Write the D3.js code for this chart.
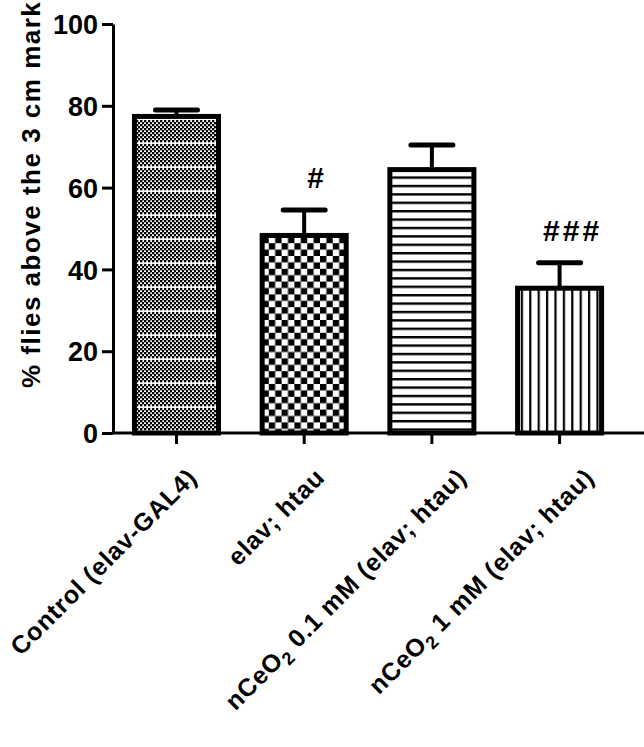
<!DOCTYPE html>
<html>
<head>
<meta charset="utf-8">
<script src="https://cdn.jsdelivr.net/npm/d3@7"></script>
<style>
  body { margin: 0; background: #fff; }
  text { font-family: "Liberation Sans", Arial, sans-serif; font-weight: bold; fill: #000; }
</style>
</head>
<body>
<div id="chart"></div>
<script>
// data
var groups = ["Control (elav-GAL4)", "elav; htau", "nCeO2 0.1 mM (elav; htau)", "nCeO2 1 mM (elav; htau)"];
var means = [77.4, 48.3, 64.4, 35.4];
var sems = [1.6, 6.2, 6.0, 6.2];
var marks = ["", "#", "", "###"];
var yTicks = [0, 20, 40, 60, 80, 100];

var width = 644, height = 747;

var svg = d3.select("#chart").append("svg")
  .attr("width", width)
  .attr("height", height);

var x = d3.scaleBand()
  .domain(groups)
  .range([113, 644])
  .paddingInner(0.342)
  .paddingOuter(0.25)
  .align(0.336);

var y = d3.scaleLinear()
  .domain([0, 100])
  .range([433, 24]);

// fill patterns, one per bar
var defs = svg.append("defs");

// fine checker with white bands
var p0 = defs.append("pattern").attr("id", "p0")
  .attr("patternUnits", "userSpaceOnUse")
  .attr("width", 4).attr("height", 24);
p0.append("rect").attr("width", 4).attr("height", 24).attr("fill", "#fff");
for (var r = 0; r < 11; r++) {
  p0.append("rect").attr("x", (r % 2) * 2).attr("y", r * 2)
    .attr("width", 2.3).attr("height", 2.3).attr("fill", "#000");
}

// coarse checkerboard
var c = 12.8;
var p1 = defs.append("pattern").attr("id", "p1")
  .attr("patternUnits", "userSpaceOnUse")
  .attr("width", c).attr("height", c);
p1.append("rect").attr("width", c).attr("height", c).attr("fill", "#fff");
p1.append("rect").attr("width", c / 2).attr("height", c / 2).attr("fill", "#000");
p1.append("rect").attr("x", c / 2).attr("y", c / 2).attr("width", c / 2).attr("height", c / 2).attr("fill", "#000");

// horizontal lines
var p2 = defs.append("pattern").attr("id", "p2")
  .attr("patternUnits", "userSpaceOnUse")
  .attr("width", 10).attr("height", 8.4);
p2.append("rect").attr("width", 10).attr("height", 8.4).attr("fill", "#fff");
p2.append("rect").attr("y", 0).attr("width", 10).attr("height", 2.4).attr("fill", "#000");

// vertical lines
var p3 = defs.append("pattern").attr("id", "p3")
  .attr("patternUnits", "userSpaceOnUse")
  .attr("width", 8.4).attr("height", 10);
p3.append("rect").attr("width", 8.4).attr("height", 10).attr("fill", "#fff");
p3.append("rect").attr("x", 0).attr("width", 2.2).attr("height", 10).attr("fill", "#000");

var bars = svg.append("g").selectAll("g")
  .data(groups)
  .enter().append("g");

// error bars drawn first so the bar outline sits over them
bars.append("line")
  .attr("x1", function(d) { return x(d) + x.bandwidth() / 2; })
  .attr("x2", function(d) { return x(d) + x.bandwidth() / 2; })
  .attr("y1", function(d, i) { return y(means[i]); })
  .attr("y2", function(d, i) { return y(means[i] + sems[i]); })
  .attr("stroke", "#000").attr("stroke-width", 4);

bars.append("line")
  .attr("x1", function(d) { return x(d) + x.bandwidth() / 2 - 21; })
  .attr("x2", function(d) { return x(d) + x.bandwidth() / 2 + 21; })
  .attr("y1", function(d, i) { return y(means[i] + sems[i]); })
  .attr("y2", function(d, i) { return y(means[i] + sems[i]); })
  .attr("stroke", "#000").attr("stroke-width", 5)
  .attr("stroke-linecap", "round");

bars.append("rect")
  .attr("x", function(d) { return x(d); })
  .attr("y", function(d, i) { return y(means[i]); })
  .attr("width", x.bandwidth())
  .attr("height", function(d, i) { return y(0) - y(means[i]); })
  .attr("fill", function(d, i) { return "url(#p" + i + ")"; })
  .attr("stroke", "#000")
  .attr("stroke-width", 5);

// significance marks
bars.append("text")
  .attr("x", function(d) { return x(d) + x.bandwidth() / 2 + 13; })
  .attr("y", function(d, i) { return y(means[i] + sems[i]) - 22; })
  .attr("text-anchor", "middle")
  .style("font-size", "30px")
  .style("letter-spacing", "3px")
  .text(function(d, i) { return marks[i]; });

// y axis
var yAxis = svg.append("g")
  .attr("transform", "translate(113,0)")
  .call(d3.axisLeft(y).tickValues(yTicks).tickSize(11).tickSizeOuter(0).tickPadding(4));
yAxis.selectAll("path, line").attr("stroke", "#000").attr("stroke-width", 3);
yAxis.selectAll("text")
  .style("font-size", "27px")
  .attr("dy", "0.36em");

// x axis
var xAxis = svg.append("g")
  .attr("transform", "translate(0,433)")
  .call(d3.axisBottom(x).tickSize(11).tickSizeOuter(0).tickFormat(""));
xAxis.select(".domain").attr("d", "M113,0H644");
xAxis.selectAll("path, line").attr("stroke", "#000").attr("stroke-width", 3);

// rotated category labels, with subscript in CeO2
var labels = svg.append("g").selectAll("text")
  .data(groups)
  .enter().append("text")
  .attr("text-anchor", "end")
  .style("font-size", "25px")
  .style("letter-spacing", "0.8px")
  .attr("transform", function(d) {
    var off = d.indexOf("O2") >= 0 ? 36 : 22;
    return "translate(" + (x(d) + x.bandwidth() / 2 + off) + ",479) rotate(-45)";
  });

labels.each(function(d) {
  var t = d3.select(this);
  var k = d.indexOf("O2");
  if (k < 0) { t.text(d); return; }
  t.append("tspan").text(d.slice(0, k + 1));
  t.append("tspan").attr("dy", 6).style("font-size", "18px").text("2");
  t.append("tspan").attr("dy", -6).text(d.slice(k + 2));
});

// y axis title
svg.append("text")
  .attr("transform", "translate(40,388) rotate(-90)")
  .attr("text-anchor", "start")
  .style("font-size", "26px")
  .style("letter-spacing", "1.5px")
  .text("% flies above the 3 cm mark");
</script>
</body>
</html>
